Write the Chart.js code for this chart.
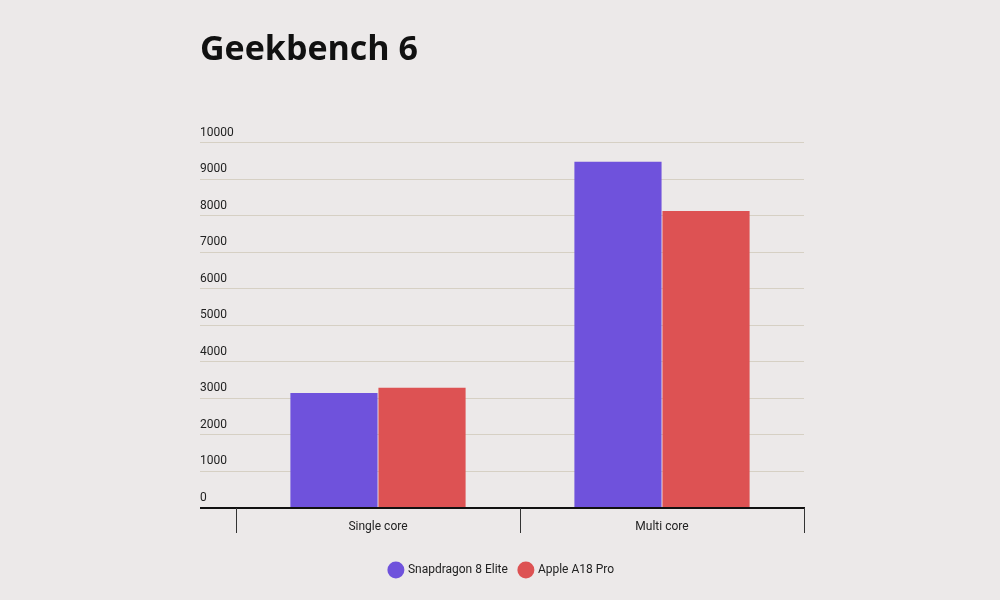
<!DOCTYPE html>
<html>
<head>
<meta charset="utf-8">
<script src="https://cdn.jsdelivr.net/npm/chart.js@4"></script>
<style>
  html, body { margin: 0; background: #ece9e9; }
  #wrap { width: 1000px; height: 600px; }
</style>
</head>
<body>
<div id="wrap"><canvas id="geekbench"></canvas></div>
<script>
const categories = ["Single core", "Multi core"];
const snapdragon = [3150, 9480];
const appleA18 = [3290, 8130];
const yTicks = [0, 1000, 2000, 3000, 4000, 5000, 6000, 7000, 8000, 9000, 10000];

// extend the category boundary ticks below the labels
const boundaryTicks = {
  id: "boundaryTicks",
  afterDraw(chart) {
    const x = chart.scales.x;
    const ctx = chart.ctx;
    const step = x.getPixelForValue(1) - x.getPixelForValue(0);
    ctx.save();
    ctx.strokeStyle = "#333";
    ctx.lineWidth = 1;
    for (let i = 0; i <= categories.length; i++) {
      const px = Math.round(x.getPixelForValue(i) - step / 2) + 0.5;
      ctx.beginPath();
      ctx.moveTo(px, x.top);
      ctx.lineTo(px, x.top + 25);
      ctx.stroke();
    }
    ctx.restore();
  },
};

new Chart(document.getElementById("geekbench"), {
  type: "bar",
  data: {
    labels: categories,
    datasets: [
      {
        label: "Snapdragon 8 Elite",
        data: snapdragon,
        backgroundColor: "#6f52dc",
        categoryPercentage: 0.62,
        barPercentage: 0.99,
      },
      {
        label: "Apple A18 Pro",
        data: appleA18,
        backgroundColor: "#dd5253",
        categoryPercentage: 0.62,
        barPercentage: 0.99,
      },
    ],
  },
  plugins: [boundaryTicks],
  options: {
    responsive: true,
    maintainAspectRatio: false,
    animation: false,
    layout: { padding: { left: 200, right: 196, top: 30, bottom: 14 } },
    plugins: {
      title: {
        display: true,
        text: "Geekbench 6",
        align: "start",
        color: "#111",
        font: { family: "Open Sans", size: 34, weight: "bold" },
        padding: { top: 0, bottom: 72 },
      },
      legend: {
        position: "bottom",
        labels: {
          usePointStyle: true,
          pointStyle: "circle",
          boxWidth: 14,
          boxHeight: 14,
          color: "#222",
          padding: 12,
          font: { family: "Roboto", size: 12 },
        },
      },
      tooltip: { enabled: false },
    },
    scales: {
      x: {
        afterFit: (scale) => { scale.height = 44; },
        border: { color: "#111", width: 2 },
        grid: { display: false },
        ticks: { color: "#222", padding: 4, font: { family: "Roboto", size: 12 } },
      },
      y: {
        min: 0,
        max: 10000,
        afterBuildTicks: (scale) => { scale.ticks = yTicks.map((v) => ({ value: v })); },
        afterFit: (scale) => { scale.width = 36; },
        border: { display: false },
        grid: {
          color: (c) => (c.tick && c.tick.value === 0 ? "#111" : "#d6d0c4"),
          lineWidth: (c) => (c.tick && c.tick.value === 0 ? 2 : 1),
          tickLength: 36,
        },
        ticks: {
          color: "#222",
          align: "center",
          crossAlign: "far",
          padding: 0,
          labelOffset: -10,
          callback: (v) => String(v),
          font: { family: "Roboto", size: 12 },
        },
      },
    },
  },
});
</script>
</body>
</html>
